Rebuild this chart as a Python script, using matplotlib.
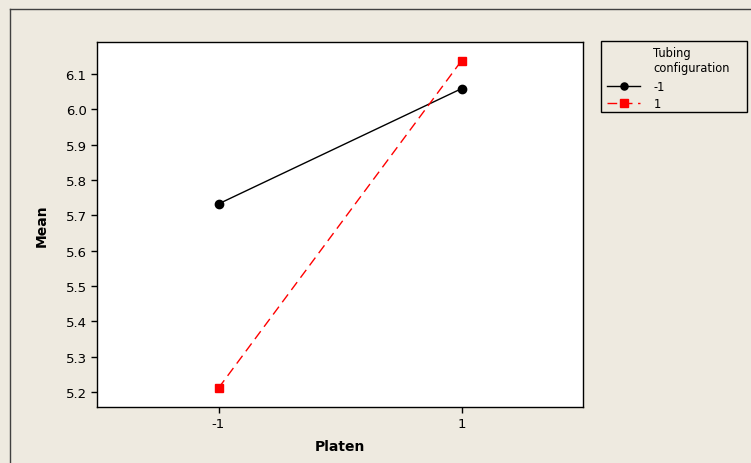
import matplotlib
matplotlib.use('Agg')
import matplotlib.pyplot as plt
from matplotlib.lines import Line2D
from matplotlib.patches import Rectangle

# Interaction plot data
platen = [-1, 1]
mean_neg = [5.732, 6.058]
mean_pos = [5.211, 6.137]
series_labels = ['-1', '1']
yticks = [5.2, 5.3, 5.4, 5.5, 5.6, 5.7, 5.8, 5.9, 6.0, 6.1]

bg = '#eeeae0'
W, H = 751, 464

fig = plt.figure(figsize=(7.51, 4.64), dpi=100, facecolor=bg)
ax = fig.add_axes([97 / W, 1 - 408 / H, (583 - 97) / W, (408 - 43) / H])
ax.set_facecolor('white')

ax.plot(platen, mean_neg, color='black', lw=1, marker='o', ms=6,
        label=series_labels[0])
ax.plot(platen, mean_pos, color='red', lw=1, ls=(0, (7, 4)), marker='s',
        ms=6, label=series_labels[1])

ax.set_xlim(-2, 2)
ax.set_ylim(5.1575, 6.19)
ax.set_xticks(platen)
ax.set_xticklabels(['-1', '1'])
ax.set_yticks(yticks)
ax.set_yticklabels(['%.1f' % v for v in yticks])
ax.tick_params(labelsize=9.5, length=4, width=1, color='black')
for s in ax.spines.values():
    s.set_linewidth(1)

ax.set_xlabel('Platen', fontsize=10, fontweight='bold', labelpad=6)
ax.set_ylabel('Mean', fontsize=10, fontweight='bold', labelpad=12)

# legend box, title and entries
fig.add_artist(Rectangle((601 / W, 1 - 113 / H), 146 / W, 71 / H,
                         transform=fig.transFigure, fill=False,
                         edgecolor='black', lw=1))
fig.text(653 / W, 1 - 47 / H, 'Tubing\nconfiguration', fontsize=8.3,
         va='top', ha='left', linespacing=1.25)
leg = fig.legend(handles=ax.get_lines(), labels=series_labels,
                 loc='upper left', bbox_to_anchor=(607 / W, 1 - 81 / H),
                 fontsize=8.3, frameon=False, handlelength=2.9,
                 handletextpad=1.15, borderpad=0, labelspacing=0.35,
                 borderaxespad=0, markerscale=0.85)

# outer frame
fig.add_artist(Line2D([10 / W, 10 / W], [0, 1 - 10 / H], color='#404040',
                      lw=1, transform=fig.transFigure))
fig.add_artist(Line2D([10 / W, 1], [1 - 10 / H, 1 - 10 / H], color='#404040',
                      lw=1, transform=fig.transFigure))

fig.savefig('out.png', dpi=100, facecolor=bg)
